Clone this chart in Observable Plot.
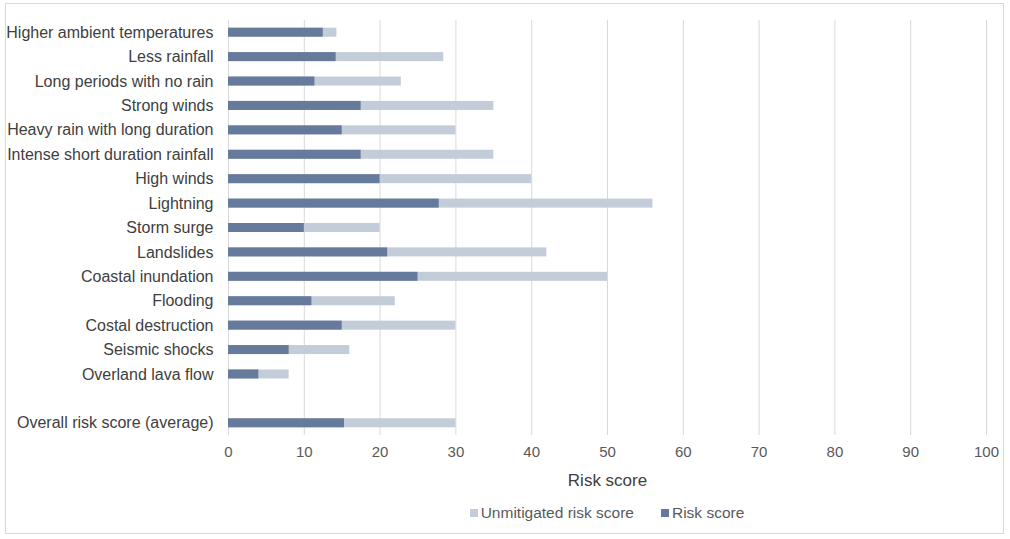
<!DOCTYPE html>
<html><head><meta charset="utf-8">
<script src="https://cdn.jsdelivr.net/npm/d3@7"></script>
<script src="https://cdn.jsdelivr.net/npm/@observablehq/plot@0.6"></script>
<style>
body{margin:0;background:#fff;font-family:"Liberation Sans",Arial,sans-serif}
#frame{position:absolute;left:5px;top:3px;width:999px;height:531px;border:1px solid #d9d9d9;box-sizing:border-box}
#chart{position:absolute;left:0;top:0}
#legend{position:absolute;top:504px;left:228px;width:758px;display:flex;justify-content:center;gap:27px;font-size:15.5px;color:#595959;line-height:18px}
#legend span.sw{display:inline-block;width:8px;height:8px;margin-right:3px;vertical-align:1px}
</style></head>
<body>
<div id="frame"></div>
<div id="chart"></div>
<div id="legend"></div>
<script>
const categories = ["Higher ambient temperatures","Less rainfall","Long periods with no rain","Strong winds","Heavy rain with long duration","Intense short duration rainfall","High winds","Lightning","Storm surge","Landslides","Coastal inundation","Flooding","Costal destruction","Seismic shocks","Overland lava flow","Overall risk score (average)"];
const riskScore   = [12.5,14.2,11.4,17.5,15,17.5,20,27.8,10,21,25,11,15,8,4,15.3];
const unmitigated = [14.3,28.4,22.8,35,30,35,40,56,20,42,50,22,30,16,8,30];
const xTicks = [0,10,20,30,40,50,60,70,80,90,100];
const seriesNames = ["Unmitigated risk score","Risk score"];
const colors = ["#c3ccd9","#667a9b"];

const rows = categories.map((c,i)=>({cat:c, risk:riskScore[i], unmit:unmitigated[i]}));
const domain = [...categories.slice(0,15), " ", categories[15]];
const inset = 7.7;

const chart = Plot.plot({
  width:1010, height:500,
  marginLeft:228, marginRight:24, marginTop:20, marginBottom:65,
  style:{fontFamily:'"Liberation Sans",Arial,sans-serif', fontSize:"15px", color:"#595959", background:"transparent"},
  x:{domain:[0,100]},
  y:{domain, padding:0, round:false},
  marks:[
    Plot.gridX(xTicks,{stroke:"#d9d9d9", strokeOpacity:1, strokeWidth:1}),
    Plot.barX(rows,{x:"unmit", y:"cat", fill:colors[0], insetTop:inset, insetBottom:inset}),
    Plot.barX(rows,{x:"risk", y:"cat", fill:colors[1], insetTop:inset, insetBottom:inset}),
    Plot.axisX(xTicks,{tickSize:0, tickPadding:11, label:null, fontSize:15, fill:"#595959"}),
    Plot.axisY({tickSize:0, tickPadding:15, label:null, fontSize:16, fill:"#404040", tickFormat:d=>d.trim()}),
    Plot.text(["Risk score"],{frameAnchor:"bottom", dy:50, fontSize:17, fill:"#404040"})
  ]
});
document.getElementById("chart").append(chart);

const leg = document.getElementById("legend");
seriesNames.forEach((n,i)=>{
  const d = document.createElement("div");
  d.innerHTML = `<span class="sw" style="background:${colors[i]}"></span>${n}`;
  leg.append(d);
});
</script>
</body></html>
